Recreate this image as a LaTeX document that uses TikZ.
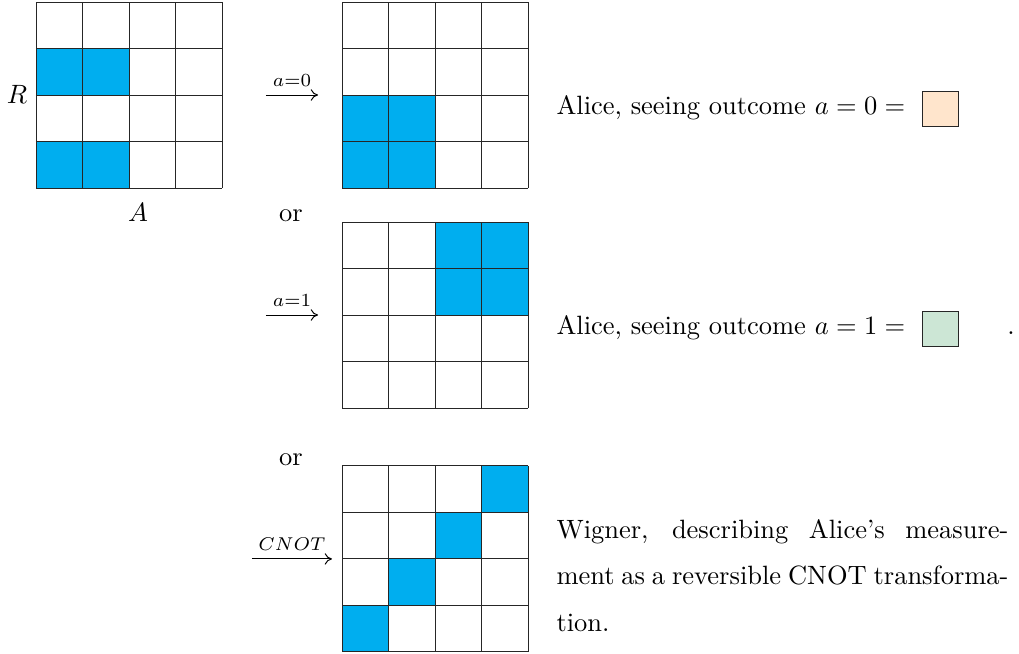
\documentclass[tikz,border=0pt]{standalone}
\usepackage{tikz}
\usetikzlibrary{positioning,arrows.meta}
\definecolor{cellblue}{RGB}{0,174,239}
\definecolor{peachbox}{RGB}{255,229,204}
\definecolor{greenbox}{RGB}{204,230,213}

\begin{document}
\begin{tikzpicture}[
    >={Computer Modern Rightarrow[length=4.5pt,width=7pt]},
    gridline/.style={draw=black!85, line width=0.6pt},
    cell/.style={fill=cellblue},
    txt/.style={font=\fontsize{10}{17.57}\selectfont, inner sep=0pt, scale=1.62, transform shape},
    lbl/.style={font=\fontsize{10}{12}\selectfont, anchor=base, inner sep=0pt, yshift=5pt, scale=1.62, transform shape},
    swatch/.style={draw=black!85, line width=0.5pt, minimum width=0.774cm, minimum height=0.753cm, inner sep=0pt},
    arr/.style={->, line width=0.6pt}
  ]
  \useasboundingbox (0,0) rectangle (21.914,-14.043);

  \begin{scope}[shift={(0.774,-4.043)}]
    \foreach \i/\j in {0/0,1/0,0/2,1/2}
      \fill[cell] (\i,\j) rectangle +(1,1);
    \foreach \k in {0,...,4} {
      \draw[gridline] (\k,0) -- (\k,4);
      \draw[gridline] (0,\k) -- (4,\k);
    }
  \end{scope}

  \begin{scope}[shift={(7.355,-4.043)}]
    \foreach \i/\j in {0/0,1/0,0/1,1/1}
      \fill[cell] (\i,\j) rectangle +(1,1);
    \foreach \k in {0,...,4} {
      \draw[gridline] (\k,0) -- (\k,4);
      \draw[gridline] (0,\k) -- (4,\k);
    }
  \end{scope}

  \begin{scope}[shift={(7.355,-8.774)}]
    \foreach \i/\j in {2/2,3/2,2/3,3/3}
      \fill[cell] (\i,\j) rectangle +(1,1);
    \foreach \k in {0,...,4} {
      \draw[gridline] (\k,0) -- (\k,4);
      \draw[gridline] (0,\k) -- (4,\k);
    }
  \end{scope}

  \begin{scope}[shift={(7.355,-14.02)}]
    \foreach \i in {0,...,3}
      \fill[cell] (\i,\i) rectangle +(1,1);
    \foreach \k in {0,...,4} {
      \draw[gridline] (\k,0) -- (\k,4);
      \draw[gridline] (0,\k) -- (4,\k);
    }
  \end{scope}

  \node[txt, anchor=base] (R) at (0.366,-2.215) {$R$};
  \node[txt, anchor=base] (A) at (2.968,-4.774) {$A$};
  \node[txt, anchor=base] (or1) at (6.258,-4.774) {or};
  \node[txt, anchor=base] (or2) at (6.258,-10.0) {or};

  \coordinate (a0s) at (5.72,-2.043);
  \coordinate (a0e) at (6.84,-2.043);
  \coordinate (a1s) at (5.72,-6.774);
  \coordinate (a1e) at (6.84,-6.774);
  \coordinate (cns) at (5.419,-12.02);
  \coordinate (cne) at (7.14,-12.02);
  \draw[arr] (a0s) -- node[lbl] {$\scriptstyle a=0$} (a0e);
  \draw[arr] (a1s) -- node[lbl] {$\scriptstyle a=1$} (a1e);
  \draw[arr] (cns) -- node[lbl] {$\scriptstyle CNOT$} (cne);

  \node[txt, anchor=base west] (alice0) at (11.957,-2.473) {Alice, seeing outcome $a=0=$};
  \node[swatch, fill=peachbox] (sw0) at (20.215,-2.333) {};
  \node[txt, anchor=base west] (alice1) at (11.957,-7.204) {Alice, seeing outcome $a=1=$};
  \node[swatch, fill=greenbox] (sw1) at (20.215,-7.064) {};
  \node[txt, anchor=base] (dot) at (21.742,-7.204) {.};

  \node[txt, anchor=base west, text width=6cm, align=justify] (wigner) at (11.957,-11.57)
    {Wigner, describing Alice's measurement as a reversible CNOT transformation.};
\end{tikzpicture}
\end{document}
